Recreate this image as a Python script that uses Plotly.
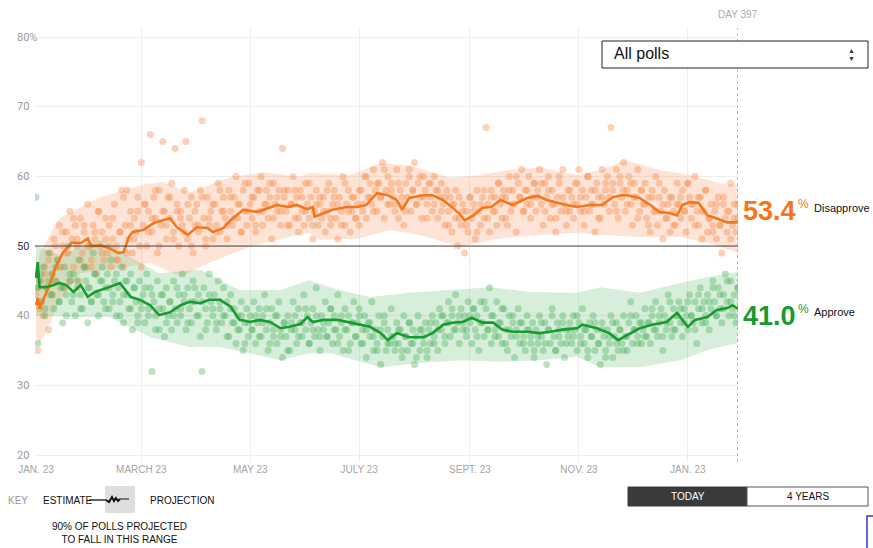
import plotly.graph_objects as go
import pandas as pd

BASE = pd.Timestamp("2017-01-23")

# ---------------- data ----------------
# Trend estimates: (day since Jan 23 2017, value)
dis_trend_days = [0, 1, 2, 4.5, 8, 11, 15, 20, 25, 29, 31, 36, 41, 46, 49, 52, 54, 60, 66, 71, 75, 79, 85, 90, 96, 99,
                  105, 109, 116, 124, 131, 135, 141, 146, 152, 155, 156, 161, 166, 174, 180, 185, 191, 197, 202, 205,
                  209, 217, 222, 228, 233, 237, 240, 245, 250, 255, 260, 267, 275, 281, 286, 292, 297, 303, 310, 317,
                  323, 328, 331, 338, 344, 349, 355, 359, 362, 366, 371, 376, 381, 387, 393]
dis_trend_vals = [41.5, 42.5, 41.0, 42.5, 44.7, 47.0, 49.0, 50.5, 50.4, 51.1, 50.0, 50.1, 49.7, 49.0, 49.1, 51.3, 52.0,
                  52.3, 53.3, 53.7, 54.0, 52.7, 51.6, 52.7, 52.6, 52.0, 52.6, 53.7, 55.2, 54.9, 55.5, 55.9, 55.6, 55.9,
                  55.3, 55.6, 54.2, 54.7, 55.2, 55.6, 55.6, 55.9, 57.6, 57.3, 56.6, 55.2, 56.9, 57.3, 57.3, 56.6, 55.6,
                  54.7, 53.7, 54.4, 55.5, 55.6, 56.6, 55.9, 56.9, 57.2, 56.6, 56.2, 55.9, 55.6, 55.9, 55.9, 57.0, 57.3,
                  57.3, 56.9, 55.9, 54.9, 54.7, 54.4, 55.9, 56.3, 56.2, 54.4, 54.0, 53.4, 53.4]

app_trend_days = [0, 1, 2, 6, 10, 13, 17, 21, 25, 29, 33, 37, 41, 47, 53, 58, 64, 69, 75, 81, 86, 92, 97, 103, 109,
                  114, 120, 125, 131, 137, 142, 148, 152, 155, 161, 169, 176, 181, 187, 193, 197, 202, 209, 217, 222,
                  228, 233, 239, 244, 250, 256, 261, 267, 275, 282, 288, 295, 303, 306, 314, 321, 326, 331, 338, 345,
                  353, 359, 362, 365, 369, 376, 381, 387, 390, 393]
app_trend_vals = [45.4, 47.7, 44.1, 44.1, 44.4, 44.7, 44.4, 43.4, 44.4, 42.7, 43.4, 43.7, 44.1, 44.7, 42.7, 42.3, 41.5,
                  40.1, 40.5, 41.5, 42.0, 41.8, 42.3, 42.3, 41.3, 39.4, 39.1, 39.4, 39.1, 38.2, 38.4, 38.8, 39.8, 39.1,
                  39.4, 39.4, 39.0, 38.7, 38.4, 37.5, 36.5, 37.5, 36.9, 36.9, 37.5, 38.7, 39.0, 39.1, 39.7, 39.0, 39.0,
                  38.0, 37.7, 37.7, 37.5, 37.7, 38.0, 38.2, 38.7, 38.2, 37.5, 36.5, 37.2, 38.2, 38.7, 39.1, 40.4, 39.4,
                  38.4, 39.4, 39.8, 40.8, 41.1, 41.5, 41.0]

# 90% ranges
dis_hi_days = [0, 2, 13, 36, 60, 71, 86, 109, 128, 148, 153, 176, 193, 209, 232, 249, 265, 282, 303, 316, 330, 349, 366, 383, 393]
dis_hi_vals = [45, 49, 54, 57, 58.8, 59.2, 57.7, 59.9, 60.6, 59.9, 60.5, 60.2, 61.9, 61.6, 59.8, 60.2, 60.9, 61.3, 60.2, 60.9, 62.3, 60.9, 60.2, 59.0, 58.8]
dis_lo_days = [0, 2, 8, 13, 25, 41, 64, 81, 97, 120, 142, 153, 159, 181, 198, 215, 237, 260, 282, 303, 316, 338, 361, 377, 393]
dis_lo_vals = [37, 36, 39, 42, 46.1, 46.6, 47.6, 45.6, 47.6, 49.9, 51.3, 51.9, 50.9, 51.1, 52.3, 51.6, 49.9, 51.1, 51.6, 51.9, 51.6, 51.3, 51.3, 50.4, 49.0]

app_hi_days = [0, 13, 36, 53, 69, 92, 114, 137, 153, 165, 187, 209, 232, 254, 277, 303, 316, 338, 361, 377, 393]
app_hi_vals = [50, 48.7, 50.9, 48.4, 46.1, 46.6, 43.7, 43.7, 45.1, 44.0, 42.7, 43.3, 43.7, 44.1, 43.4, 43.3, 44.1, 43.3, 44.7, 45.6, 46.3]
app_lo_days = [0, 25, 41, 64, 86, 103, 120, 137, 153, 165, 193, 215, 237, 260, 282, 303, 316, 338, 361, 377, 393]
app_lo_vals = [40, 39.8, 39.8, 36.9, 35.5, 35.5, 34.6, 33.6, 34.6, 34.6, 32.6, 33.2, 33.6, 33.4, 33.6, 34.1, 32.6, 32.6, 33.6, 35.1, 36.1]

# Individual polls: first list has one poll per day (days 0..393),
# second list one extra poll every odd day (days 1, 3, ..., 393)
dis_polls = [
    43, 35, 41, 45, 40, 47, 44, 38, 49, 46, 51, 45, 48, 53, 47, 50, 44, 52, 49, 55,
    51, 47, 53, 50, 45, 54, 49, 52, 47, 56, 50, 48, 53, 51, 46, 55, 50, 52, 48, 54,
    49, 53, 47, 51, 56, 50, 48, 52, 58, 47, 53, 58, 51, 55, 49, 54, 52, 57, 50, 62,
    53, 56, 50, 55, 66, 52, 57, 54, 49, 58, 53, 65, 55, 51, 57, 54, 59, 52, 64, 56,
    50, 55, 53, 58, 65, 51, 54, 57, 49, 53, 56, 52, 58, 68, 54, 50, 57, 53, 55, 51,
    56, 53, 59, 52, 55, 57, 54, 51, 58, 55, 53, 57, 60, 54, 56, 52, 58, 55, 53, 59,
    56, 54, 57, 52, 58, 55, 60, 53, 56, 58, 54, 57, 51, 59, 56, 55, 58, 53, 64, 57,
    55, 58, 53, 56, 60, 54, 57, 52, 58, 55, 53, 59, 56, 54, 57, 51, 55, 58, 53, 56,
    54, 57, 52, 55, 59, 53, 56, 58, 54, 51, 57, 55, 60, 53, 56, 58, 52, 55, 57, 54,
    56, 53, 58, 55, 60, 54, 57, 59, 56, 61, 58, 55, 59, 57, 62, 54, 58, 60, 56, 59,
    57, 55, 61, 54, 58, 56, 53, 59, 57, 60, 55, 58, 62, 56, 59, 57, 54, 60, 58, 56,
    59, 57, 55, 60, 58, 54, 57, 59, 56, 53, 58, 55, 57, 52, 56, 54, 50, 57, 53, 55,
    49, 55, 52, 57, 54, 56, 51, 58, 55, 53, 57, 54, 67, 56, 52, 58, 55, 57, 53, 59,
    56, 54, 58, 57, 53, 60, 55, 58, 56, 52, 59, 57, 61, 55, 58, 56, 60, 54, 57, 59,
    55, 58, 61, 56, 53, 59, 57, 60, 54, 58, 56, 52, 57, 59, 55, 61, 56, 53, 58, 55,
    57, 54, 59, 56, 61, 55, 58, 53, 57, 60, 55, 58, 56, 52, 59, 57, 54, 61, 56, 58,
    60, 55, 67, 58, 56, 61, 54, 59, 57, 62, 55, 58, 60, 56, 53, 59, 57, 61, 55, 58,
    56, 59, 54, 57, 52, 58, 55, 60, 53, 57, 55, 51, 58, 54, 56, 52, 57, 55, 53, 59,
    56, 54, 58, 55, 52, 59, 57, 54, 56, 60, 55, 53, 57, 51, 55, 58, 52, 54, 56, 53,
    55, 51, 57, 53, 49, 56, 54, 52, 55, 59, 53, 56, 52, 54,
]
dis_polls_extra = [
    44, 42, 46, 48, 43, 50, 47, 52, 49, 45, 54, 51, 48, 53, 50, 47, 52, 55, 49, 51,
    50, 54, 48, 52, 57, 49, 53, 51, 55, 47, 56, 52, 54, 58, 50, 55, 53, 57, 51, 55,
    54, 52, 56, 50, 55, 53, 57, 51, 54, 56, 52, 58, 55, 53, 57, 54, 56, 52, 59, 55,
    57, 53, 58, 55, 56, 59, 54, 57, 55, 58, 53, 56, 58, 54, 57, 55, 59, 53, 56, 57,
    55, 58, 54, 57, 56, 53, 59, 55, 57, 54, 58, 56, 60, 57, 55, 59, 57, 61, 56, 58,
    56, 59, 57, 55, 61, 58, 56, 60, 57, 54, 59, 56, 58, 55, 57, 53, 56, 58, 54, 56,
    53, 57, 55, 52, 56, 58, 54, 57, 55, 59, 57, 54, 58, 56, 60, 57, 55, 58, 56, 59,
    57, 59, 55, 58, 56, 54, 60, 57, 55, 58, 56, 59, 57, 55, 60, 56, 58, 54, 57, 59,
    57, 59, 55, 60, 58, 56, 59, 57, 54, 58, 56, 53, 57, 55, 59, 56, 54, 57, 53, 56,
    57, 55, 59, 56, 53, 57, 55, 58, 54, 52, 56, 53, 57, 55, 51, 54, 56,
]
app_polls = [
    57, 36, 45, 42, 47, 40, 44, 49, 43, 46, 41, 45, 48, 42, 44, 39, 47, 43, 50, 45,
    42, 46, 40, 44, 48, 43, 41, 47, 45, 39, 44, 42, 49, 46, 43, 40, 45, 47, 42, 44,
    46, 41, 48, 43, 45, 40, 44, 42, 47, 39, 45, 43, 41, 46, 38, 44, 42, 40, 45, 41,
    43, 39, 46, 41, 44, 32, 42, 40, 45, 38, 43, 41, 37, 44, 40, 42, 38, 45, 41, 39,
    43, 40, 46, 42, 38, 44, 41, 39, 45, 42, 40, 43, 37, 32, 44, 41, 39, 46, 42, 40,
    43, 38, 45, 41, 39, 44, 40, 42, 37, 43, 39, 41, 36, 40, 38, 42, 35, 39, 41, 37,
    40, 38, 42, 36, 39, 41, 37, 40, 43, 38, 35, 39, 41, 37, 40, 36, 42, 38, 34, 39,
    37, 40, 35, 39, 42, 38, 36, 41, 39, 37, 43, 38, 40, 36, 39, 41, 37, 44, 38, 35,
    40, 38, 42, 37, 39, 41, 36, 40, 38, 43, 37, 39, 35, 41, 38, 40, 36, 39, 42, 37,
    39, 41, 36, 38, 40, 34, 39, 37, 42, 35, 38, 36, 40, 33, 37, 39, 35, 38, 36, 41,
    37, 35, 39, 36, 38, 34, 40, 37, 35, 39, 36, 38, 33, 37, 40, 35, 38, 36, 39, 34,
    38, 36, 40, 37, 39, 35, 41, 38, 40, 36, 39, 42, 37, 40, 38, 43, 39, 36, 41, 38,
    40, 37, 42, 39, 36, 41, 38, 40, 35, 42, 39, 37, 41, 38, 44, 36, 40, 38, 42, 37,
    39, 36, 41, 38, 35, 40, 37, 39, 34, 38, 41, 36, 39, 37, 35, 40, 38, 36, 39, 34,
    38, 36, 40, 37, 35, 39, 33, 38, 36, 41, 37, 35, 39, 38, 36, 40, 34, 38, 37, 39,
    36, 40, 38, 35, 39, 37, 41, 36, 38, 34, 39, 37, 40, 35, 38, 36, 33, 39, 37, 35,
    38, 36, 40, 34, 37, 39, 35, 38, 36, 40, 37, 35, 39, 42, 36, 38, 40, 37, 39, 36,
    38, 41, 37, 39, 36, 40, 38, 42, 37, 39, 41, 35, 40, 38, 43, 39, 37, 41, 38, 40,
    42, 39, 37, 41, 40, 38, 43, 40, 39, 42, 36, 41, 44, 39, 42, 40, 43, 38, 41, 45,
    42, 40, 44, 41, 39, 43, 46, 42, 40, 45, 41, 43, 39, 44,
]
app_polls_extra = [
    44, 46, 41, 45, 43, 47, 42, 44, 40, 46, 43, 45, 41, 47, 44, 42, 46, 43, 45, 41,
    44, 42, 46, 40, 43, 45, 41, 44, 39, 42, 44, 40, 43, 38, 41, 43, 39, 42, 40, 44,
    41, 43, 39, 42, 44, 40, 42, 38, 43, 41, 39, 42, 40, 37, 41, 39, 38, 40, 36, 39,
    38, 40, 37, 39, 41, 36, 38, 40, 37, 39, 35, 38, 40, 37, 39, 41, 36, 38, 40, 37,
    39, 37, 41, 38, 36, 40, 38, 35, 39, 37, 40, 36, 38, 39, 37, 35, 38, 40, 36, 37,
    36, 38, 35, 37, 39, 36, 34, 38, 37, 35, 39, 36, 38, 40, 37, 39, 41, 38, 40, 39,
    38, 40, 41, 37, 39, 42, 38, 40, 37, 39, 41, 36, 38, 40, 37, 39, 36, 38, 37, 35,
    37, 39, 36, 38, 40, 35, 37, 39, 36, 38, 37, 40, 36, 38, 35, 37, 39, 36, 38, 34,
    37, 39, 36, 38, 35, 37, 40, 38, 36, 39, 37, 39, 41, 38, 40, 37, 39, 42, 38, 40,
    41, 39, 42, 40, 38, 43, 41, 39, 42, 44, 40, 43, 41, 45, 42, 40, 44,
]

y_ticks = [20, 30, 40, 50, 60, 70, 80]
y_ticktext = ["20", "30", "40", "50", "60", "70", "80%"]
x_tick_dates = ["2017-01-23", "2017-03-23", "2017-05-23", "2017-07-23", "2017-09-23", "2017-11-23", "2018-01-23"]
x_ticktext = ["JAN. 23", "MARCH 23", "MAY 23", "JULY 23", "SEPT. 23", "NOV. 23", "JAN. 23"]
current_day = 393
day_label = "DAY 397"
dis_now, app_now = 53.4, 41.0


def to_dates(days):
    return [BASE + pd.Timedelta(days=float(d)) for d in days]


daily_days = list(range(len(dis_polls)))
odd_days = list(range(1, 2 * len(dis_polls_extra), 2))

ORANGE = "#f5761a"
GREEN = "#179a2e"

fig = go.Figure()

# bands
fig.add_trace(go.Scatter(x=to_dates(dis_hi_days) + to_dates(dis_lo_days[::-1]),
                         y=dis_hi_vals + dis_lo_vals[::-1], fill="toself", mode="none",
                         fillcolor="rgba(250,150,95,0.26)", hoverinfo="skip", showlegend=False))
fig.add_trace(go.Scatter(x=to_dates(app_hi_days) + to_dates(app_lo_days[::-1]),
                         y=app_hi_vals + app_lo_vals[::-1], fill="toself", mode="none",
                         fillcolor="rgba(100,190,115,0.26)", hoverinfo="skip", showlegend=False))

# polls
dis_marker = dict(size=7, color="rgba(248,140,75,0.40)", line=dict(width=0))
app_marker = dict(size=7, color="rgba(70,175,90,0.36)", line=dict(width=0))
fig.add_trace(go.Scatter(x=to_dates(daily_days), y=dis_polls, mode="markers", marker=dis_marker, showlegend=False))
fig.add_trace(go.Scatter(x=to_dates(odd_days), y=dis_polls_extra, mode="markers", marker=dis_marker, showlegend=False))
fig.add_trace(go.Scatter(x=to_dates(list(range(len(app_polls)))), y=app_polls, mode="markers", marker=app_marker,
                         showlegend=False))
fig.add_trace(go.Scatter(x=to_dates(list(range(1, 2 * len(app_polls_extra), 2))), y=app_polls_extra, mode="markers",
                         marker=app_marker, showlegend=False))

# trends
fig.add_trace(go.Scatter(x=to_dates(dis_trend_days), y=dis_trend_vals, mode="lines",
                         line=dict(color=ORANGE, width=2.6), showlegend=False))
fig.add_trace(go.Scatter(x=to_dates(app_trend_days), y=app_trend_vals, mode="lines",
                         line=dict(color=GREEN, width=2.6), showlegend=False))

# geometry helpers (plot area pixels: x 35..738, y 28..462)
L, R, T, B = 35, 738, 28, 462
def px(x):
    return (x - L) / (R - L)
def py(y):
    return (B - y) / (B - T)

shapes = []
shapes.append(dict(type="line", xref="paper", yref="y", x0=0, x1=1, y0=50, y1=50,
                   line=dict(color="#444", width=1)))
shapes.append(dict(type="line", xref="x", yref="paper", x0=BASE + pd.Timedelta(days=current_day),
                   x1=BASE + pd.Timedelta(days=current_day), y0=0, y1=1,
                   line=dict(color="#999", width=1, dash="dot")))
shapes.append(dict(type="rect", xref="paper", yref="paper", x0=px(602), x1=px(868), y0=py(68), y1=py(41),
                   line=dict(color="#222", width=1), fillcolor="white", layer="above"))
shapes.append(dict(type="rect", xref="paper", yref="paper", x0=px(105), x1=px(135), y0=py(513), y1=py(486),
                   line=dict(width=0), fillcolor="#dedede"))
shapes.append(dict(type="line", xref="paper", yref="paper", x0=px(89), x1=px(106), y0=py(500), y1=py(500),
                   line=dict(color="#111", width=1.3)))
shapes.append(dict(type="path", xref="paper", yref="paper",
                   path="M {} {} L {} {} L {} {} L {} {} L {} {} L {} {} L {} {}".format(
                       px(106), py(500), px(109), py(502), px(112), py(497), px(114), py(501),
                       px(116), py(498), px(118), py(501), px(120), py(499)),
                   line=dict(color="#111", width=2)))
shapes.append(dict(type="line", xref="paper", yref="paper", x0=px(120), x1=px(135), y0=py(499), y1=py(499),
                   line=dict(color="#111", width=1, dash="dash")))
shapes.append(dict(type="rect", xref="paper", yref="paper", x0=px(628), x1=px(747), y0=py(506), y1=py(487),
                   line=dict(color="#3a3a3a", width=1), fillcolor="#3a3a3a"))
shapes.append(dict(type="rect", xref="paper", yref="paper", x0=px(747), x1=px(868), y0=py(506), y1=py(487),
                   line=dict(color="#555", width=1), fillcolor="white"))
shapes.append(dict(type="rect", xref="paper", yref="paper", x0=px(867), x1=px(890), y0=py(560), y1=py(516),
                   line=dict(color="#2a3bd6", width=1.5), fillcolor="white"))

def note(x, y, text, size=10, color="#111", anchor="left", family="Liberation Sans", yref="paper"):
    return dict(xref="paper", yref=yref, x=x, y=y, text=text, showarrow=False, xanchor=anchor,
                yanchor="middle", font=dict(family=family, size=size, color=color))

ann = []
for v, t in zip(y_ticks, y_ticktext):
    ann.append(note(px(15), v, t, size=11, color="#333" if v == 50 else "#9a9a9a", family="Roboto", yref="y"))
ann += [
    note(1.0, py(15), day_label, color="#aaa", anchor="center"),
    note(px(612), py(54), "All polls", size=16),
    note(px(852), py(50), "▲", size=7, color="#333", anchor="center"),
    note(px(852), py(58), "▼", size=7, color="#333", anchor="center"),
    note(px(741), py(211), f"<b>{dis_now:.1f}</b>", size=27, color=ORANGE),
    note(px(796), py(204), "%", size=12, color=ORANGE),
    note(px(812), py(208), "Disapprove", size=11),
    note(px(741), py(316), f"<b>{app_now:.1f}</b>", size=27, color=GREEN),
    note(px(796), py(309), "%", size=12, color=GREEN),
    note(px(812), py(312), "Approve", size=11),
    note(px(6), py(500), "KEY", color="#999"),
    note(px(41), py(500), "ESTIMATE"),
    note(px(148), py(500), "PROJECTION"),
    note(px(119), py(533), "90% OF POLLS PROJECTED<br>TO FALL IN THIS RANGE", anchor="center"),
    note(px(687.5), py(497), "TODAY", color="white", anchor="center"),
    note(px(807.5), py(497), "4 YEARS", anchor="center"),
]

fig.update_layout(
    width=873, height=548,
    margin=dict(l=L, r=873 - R, t=T, b=548 - B),
    paper_bgcolor="white", plot_bgcolor="white",
    showlegend=False,
    shapes=shapes, annotations=ann,
    xaxis=dict(range=[BASE - pd.Timedelta(hours=13), BASE + pd.Timedelta(days=393.1)],
               tickvals=x_tick_dates, ticktext=x_ticktext, showgrid=True, gridcolor="#eeeeee",
               zeroline=False, showline=False, ticks="",
               tickfont=dict(family="Liberation Sans", size=10, color="#a5a5a5")),
    yaxis=dict(range=[19.0, 81.3], tickvals=y_ticks, showticklabels=False, showgrid=True,
               gridcolor="#eeeeee", zeroline=False, showline=False, ticks=""),
)

fig.write_html("out.html", config={"displayModeBar": False},
               post_script="document.body.style.margin='0';document.body.style.padding='0';")
